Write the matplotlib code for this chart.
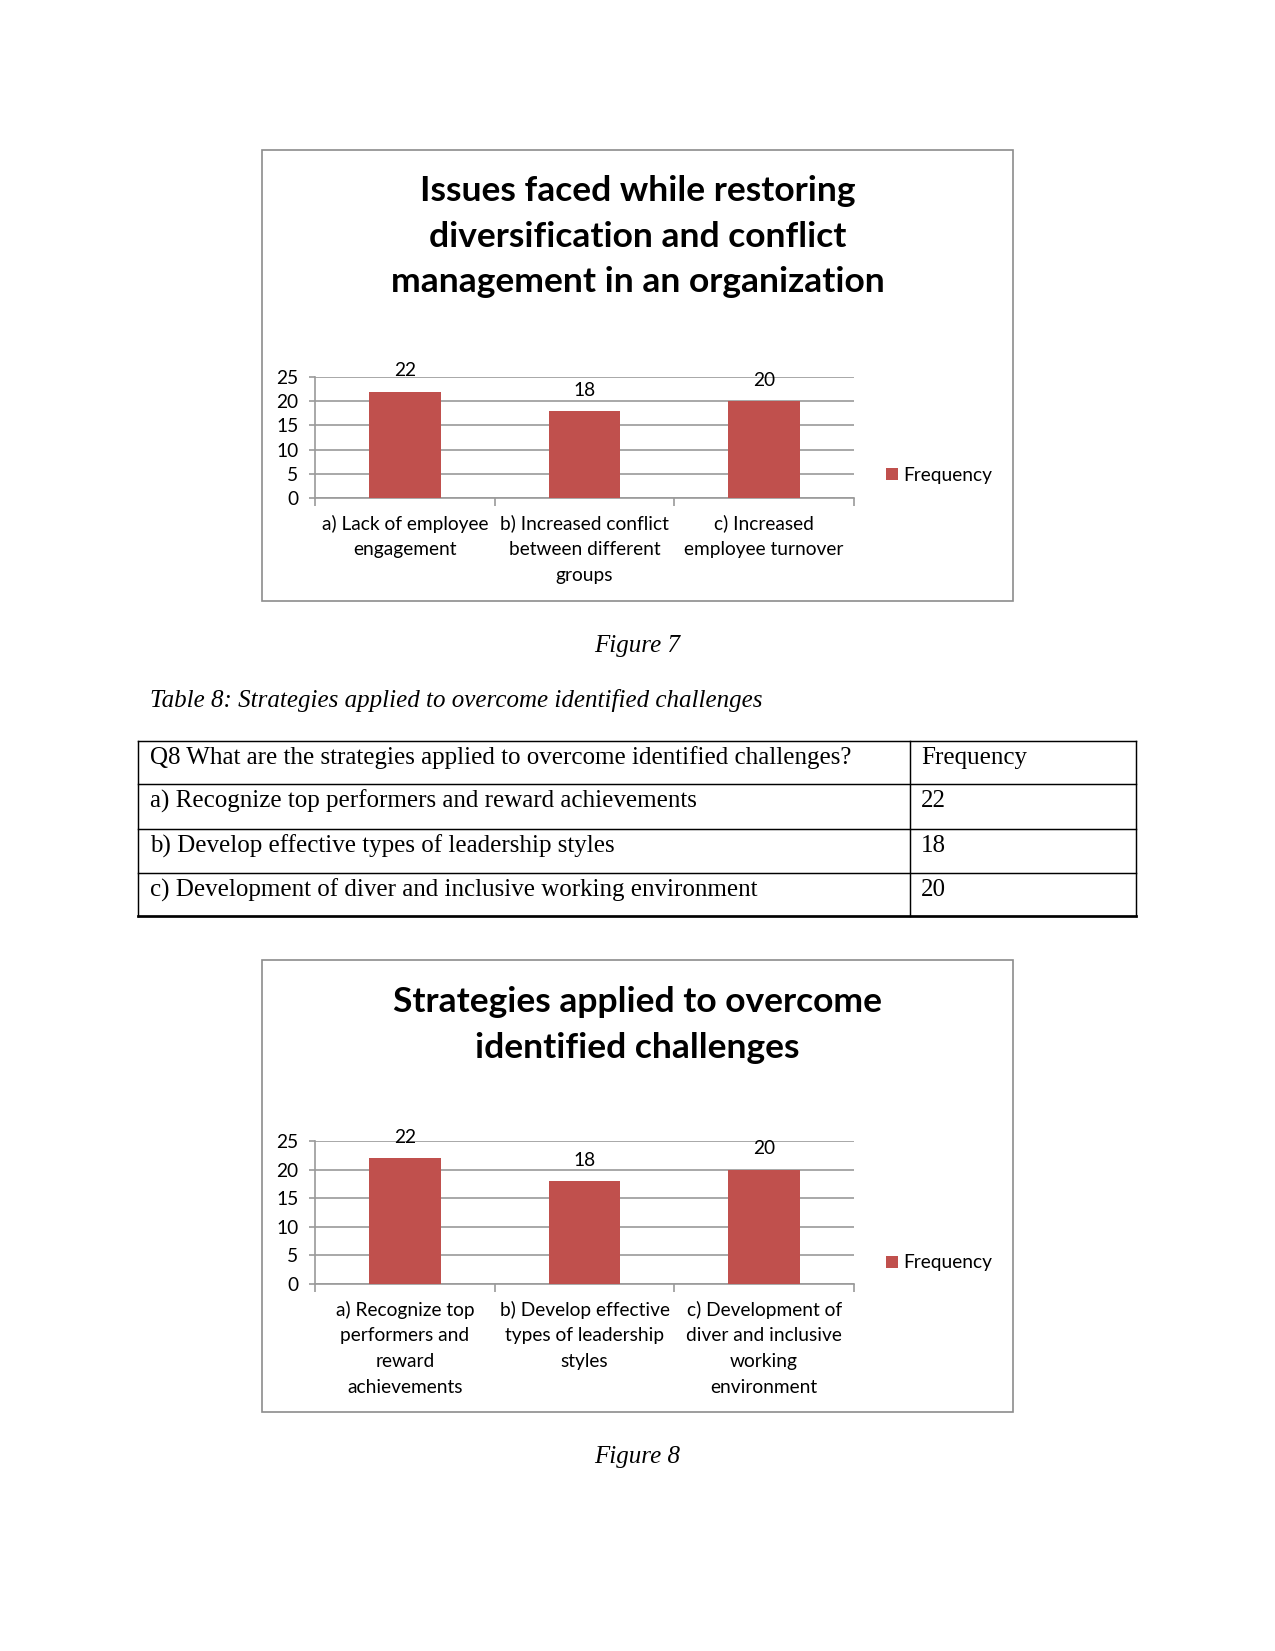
import matplotlib
matplotlib.use("Agg")
from matplotlib import pyplot as plt
from matplotlib.patches import Rectangle
from matplotlib.lines import Line2D

# page is a letter sheet at 150 dpi
W, H = 1275, 1651

# chart data (figure 7)
issues_title = "Issues faced while restoring\ndiversification and conflict\nmanagement in an organization"
issues_labels = ["a) Lack of employee\nengagement",
                 "b) Increased conflict\nbetween different\ngroups",
                 "c) Increased\nemployee turnover"]
issues_freq = [22, 18, 20]

# chart data (figure 8) and table 8
strategy_title = "Strategies applied to overcome\nidentified challenges"
strategy_labels = ["a) Recognize top\nperformers and\nreward\nachievements",
                   "b) Develop effective\ntypes of leadership\nstyles",
                   "c) Development of\ndiver and inclusive\nworking\nenvironment"]
strategy_rows = ["a) Recognize top performers and reward achievements",
                 "b) Develop effective types of leadership styles",
                 "c) Development of diver and inclusive working environment"]
strategy_freq = [22, 18, 20]
table_header = ["Q8 What are the strategies applied to overcome identified challenges?", "Frequency"]

yticks = [0, 5, 10, 15, 20, 25]
series_name = "Frequency"

bar_color = "#C0504D"
grid_color = "#9A9A9A"
sans = ["Lato", "DejaVu Sans"]
serif = ["Liberation Serif", "DejaVu Serif"]
small = 9.2


def fx(x):
    return x / W


def fy(y):
    return 1 - y / H


fig = plt.figure(figsize=(W / 150, H / 150), dpi=150)


def draw_chart(box, title, title_y, plot_box, labels, values, legend_y):
    # outer chart frame
    x0, y0, x1, y1 = box
    fig.add_artist(Rectangle((fx(x0), fy(y1)), fx(x1) - fx(x0), fy(y0) - fy(y1),
                             transform=fig.transFigure, fill=False,
                             edgecolor="#8C8C8C", linewidth=0.8))
    fig.text(fx((x0 + x1) / 2), fy(title_y), title, ha="center", va="top",
             fontsize=17, fontweight="bold", family=sans, linespacing=1.52)

    px0, py0, px1, py1 = plot_box
    ax = fig.add_axes([fx(px0), fy(py1), fx(px1) - fx(px0), fy(py0) - fy(py1)])
    pos = list(range(len(values)))
    bars = ax.bar(pos, values, width=0.4, color=bar_color, zorder=3, label=series_name)
    for x, v in zip(pos, values):
        ax.annotate(str(v), (x, v), xytext=(0, 10), textcoords="offset points",
                    ha="center", va="center", fontsize=small, family=sans)
    ax.set_xlim(-0.5, len(values) - 0.5)
    ax.set_ylim(0, 25)
    ax.set_yticks(yticks)
    ax.set_yticklabels([str(t) for t in yticks], fontsize=small, family=sans)
    ax.set_xticks(pos)
    ax.set_xticklabels(labels, fontsize=small, family=sans, linespacing=1.62)
    ax.set_xticks([p - 0.5 for p in pos] + [len(values) - 0.5], minor=True)
    ax.tick_params(axis="x", which="major", length=0, pad=8)
    ax.tick_params(axis="x", which="minor", length=4, color=grid_color, width=0.8)
    ax.tick_params(axis="y", length=3, color=grid_color, width=0.8, pad=5)
    ax.yaxis.grid(True, color=grid_color, linewidth=0.8, zorder=0)
    for s in ["top", "right"]:
        ax.spines[s].set_visible(False)
    for s in ["left", "bottom"]:
        ax.spines[s].set_color(grid_color)
        ax.spines[s].set_linewidth(0.8)
    ax.set_facecolor("none")
    ax.legend(handles=[bars], loc="center left",
              bbox_to_anchor=(1.06, legend_y), frameon=False,
              handlelength=0.6, handleheight=0.6, handletextpad=0.3,
              borderpad=0, borderaxespad=0,
              prop={"family": sans, "size": small})
    return ax


# figure 7
draw_chart((262, 150, 1013, 601), issues_title, 175,
           (315, 377, 854, 498), issues_labels, issues_freq, 0.185)
fig.text(fx(637), fy(646), "Figure 7", ha="center", va="center",
         fontsize=12, style="italic", family=serif)

# table 8
fig.text(fx(150), fy(701), "Table 8: Strategies applied to overcome identified challenges",
         ha="left", va="center", fontsize=12, style="italic", family=serif)

row_edges = [741, 784, 829, 873, 916]
tx0, tdiv, tx1 = 138, 910, 1136
for i, y in enumerate(row_edges):
    lw = 1.3 if i == len(row_edges) - 1 else 0.7
    fig.add_artist(Line2D([fx(tx0), fx(tx1)], [fy(y), fy(y)], transform=fig.transFigure,
                          color="black", linewidth=lw))
for x in [tx0, tdiv, tx1]:
    fig.add_artist(Line2D([fx(x), fx(x)], [fy(row_edges[0]), fy(row_edges[-1])],
                          transform=fig.transFigure, color="black", linewidth=0.7))

table_cells = [table_header] + [[r, str(v)] for r, v in zip(strategy_rows, strategy_freq)]
for i, (left, right) in enumerate(table_cells):
    y = row_edges[i] + 17
    fig.text(fx(150), fy(y), left, ha="left", va="center", fontsize=12, family=serif)
    fig.text(fx(921), fy(y), right, ha="left", va="center", fontsize=12, family=serif)

# figure 8
draw_chart((262, 960, 1013, 1412), strategy_title, 986,
           (315, 1141, 854, 1284), strategy_labels, strategy_freq, 0.147)
fig.text(fx(637), fy(1457), "Figure 8", ha="center", va="center",
         fontsize=12, style="italic", family=serif)

fig.savefig("out.png", dpi=150, facecolor="white")
